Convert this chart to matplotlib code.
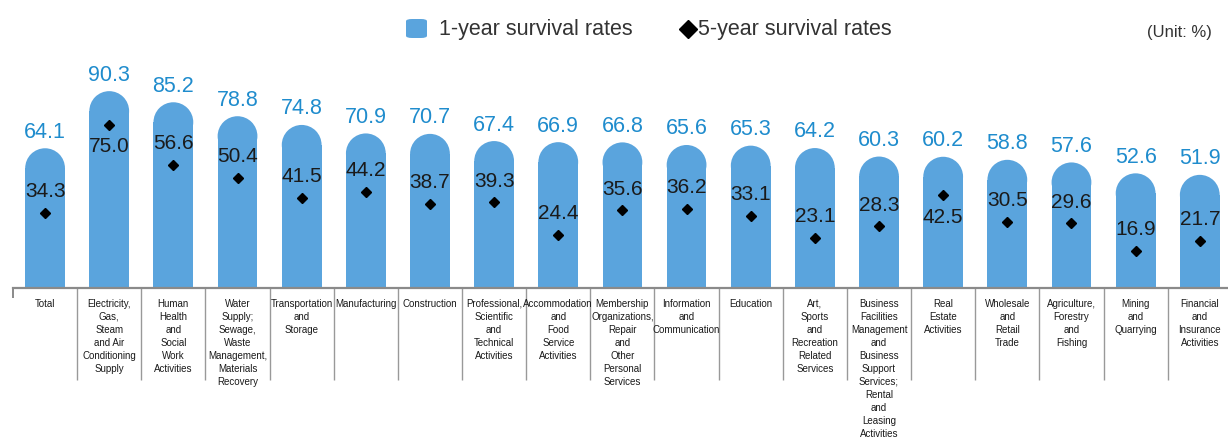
"""Firm survival rates by industry: 1-year bars with rounded caps, 5-year diamonds."""

import matplotlib
matplotlib.use("Agg")
import matplotlib.pyplot as plt
import matplotlib.transforms as mtransforms
from matplotlib import font_manager
from matplotlib.lines import Line2D
from matplotlib.patches import Ellipse, FancyBboxPatch

# ---------------------------------------------------------------------------
# Data
# ---------------------------------------------------------------------------
categories = [
    "Total",
    "Electricity,\nGas,\nSteam\nand Air\nConditioning\nSupply",
    "Human\nHealth\nand\nSocial\nWork\nActivities",
    "Water\nSupply;\nSewage,\nWaste\nManagement,\nMaterials\nRecovery",
    "Transportation\nand\nStorage",
    "Manufacturing",
    "Construction",
    "Professional,\nScientific\nand\nTechnical\nActivities",
    "Accommodation\nand\nFood\nService\nActivities",
    "Membership\nOrganizations,\nRepair\nand\nOther\nPersonal\nServices",
    "Information\nand\nCommunication",
    "Education",
    "Art,\nSports\nand\nRecreation\nRelated\nServices",
    "Business\nFacilities\nManagement\nand\nBusiness\nSupport\nServices;\nRental\nand\nLeasing\nActivities",
    "Real\nEstate\nActivities",
    "Wholesale\nand\nRetail\nTrade",
    "Agriculture,\nForestry\nand\nFishing",
    "Mining\nand\nQuarrying",
    "Financial\nand\nInsurance\nActivities",
]
one_year = [64.1, 90.3, 85.2, 78.8, 74.8, 70.9, 70.7, 67.4, 66.9, 66.8,
            65.6, 65.3, 64.2, 60.3, 60.2, 58.8, 57.6, 52.6, 51.9]
five_year = [34.3, 75.0, 56.6, 50.4, 41.5, 44.2, 38.7, 39.3, 24.4, 35.6,
             36.2, 33.1, 23.1, 28.3, 42.5, 30.5, 29.6, 16.9, 21.7]
# 5-year labels written under the diamond instead of above it
below_idx = [1, 14]

# ---------------------------------------------------------------------------
# Style
# ---------------------------------------------------------------------------
BAR = "#5aa4dd"
BLUE_TXT = "#1f8ccd"
DARK = "#1a1a1a"
GREY_TXT = "#333333"
LINE = "#999999"

plt.rcParams["font.family"] = ["Liberation Sans", "DejaVu Sans"]
_names = {f.name for f in font_manager.fontManager.ttflist}
HAS_NARROW = "Liberation Sans Narrow" in _names
CAT_FONT = ["Liberation Sans Narrow"] if HAS_NARROW else ["Liberation Sans"]
CAT_SIZE = 8 if HAS_NARROW else 7
CAT_SPACING = 1.2 if HAS_NARROW else 1.37

W, H = 1228, 441
fig = plt.figure(figsize=(W / 100, H / 100), dpi=100)
x0, base, top = 13, 288, 70
ax = fig.add_axes([x0 / W, (H - base) / H, (W - x0) / W, (base - top) / H])
ax.set_ylim(0, 100)
ax.set_xlim(-0.5, 18.44)

n = len(categories)
xs = list(range(n))
bw = 0.62

# rounded cap: radius equals half bar width in pixels
px_x = ax.bbox.width / (ax.get_xlim()[1] - ax.get_xlim()[0])
px_y = ax.bbox.height / (ax.get_ylim()[1] - ax.get_ylim()[0])
r_y = (bw / 2) * px_x / px_y

ax.bar(xs, [v - r_y for v in one_year], width=bw, color=BAR, linewidth=0, zorder=2)
for x, v in zip(xs, one_year):
    ax.add_patch(Ellipse((x, v - r_y), bw, 2 * r_y, color=BAR, linewidth=0, zorder=2))
    ax.annotate(f"{v:.1f}", (x, v), xytext=(0, 4), textcoords="offset points",
                ha="center", va="bottom", fontsize=15.5, color=BLUE_TXT)

ax.plot(xs, five_year, linestyle="none", marker="D", markersize=5.5,
        color="black", zorder=3)
for i, (x, v) in enumerate(zip(xs, five_year)):
    if i in below_idx:
        ax.annotate(f"{v:.1f}", (x, v), xytext=(0, -9), textcoords="offset points",
                    ha="center", va="top", fontsize=15, color=DARK, zorder=4)
    else:
        ax.annotate(f"{v:.1f}", (x, v), xytext=(0, 8.5), textcoords="offset points",
                    ha="center", va="bottom", fontsize=15, color=DARK, zorder=4)

# axis and category separators
for s in ["top", "right", "left"]:
    ax.spines[s].set_visible(False)
ax.spines["bottom"].set_color("#8a8a8a")
ax.spines["bottom"].set_linewidth(1.6)
ax.set_xticks([])
ax.set_yticks([])

trans = mtransforms.blended_transform_factory(ax.transData, ax.transAxes)
sep_low = -(380 - base) / (base - top)
ax.vlines([-0.5], -10 / (base - top), 0, transform=trans, color="#777777",
          linewidth=1.2, clip_on=False)
ax.vlines([i + 0.5 for i in range(n - 1)], sep_low, 0, transform=trans,
          color=LINE, linewidth=1.0, clip_on=False)

lab_y = -(299 - base) / (base - top)
for x, c in zip(xs, categories):
    ax.text(x, lab_y, c, transform=trans, ha="center", va="top",
            multialignment="center", fontsize=CAT_SIZE, family=CAT_FONT,
            color=DARK, linespacing=CAT_SPACING, clip_on=False)

# legend drawn by hand to match the reference
fig.add_artist(FancyBboxPatch((406 / W, 1 - 38 / H), 21 / W, 19 / H,
                              boxstyle="round,pad=0,rounding_size=0.005",
                              transform=fig.transFigure, color=BAR, linewidth=0))
fig.text(439 / W, 1 - 29 / H, "1-year survival rates", ha="left", va="center",
         fontsize=15.5, color=GREY_TXT)
fig.add_artist(Line2D([688 / W], [1 - 29 / H], marker="D", markersize=9,
                      color="black", linestyle="none", transform=fig.transFigure))
fig.text(698 / W, 1 - 29 / H, "5-year survival rates", ha="left", va="center",
         fontsize=15.5, color=GREY_TXT)
fig.text(1212 / W, 1 - 32 / H, "(Unit: %)", ha="right", va="center",
         fontsize=12, color=GREY_TXT)

fig.savefig("out.png", dpi=100)
